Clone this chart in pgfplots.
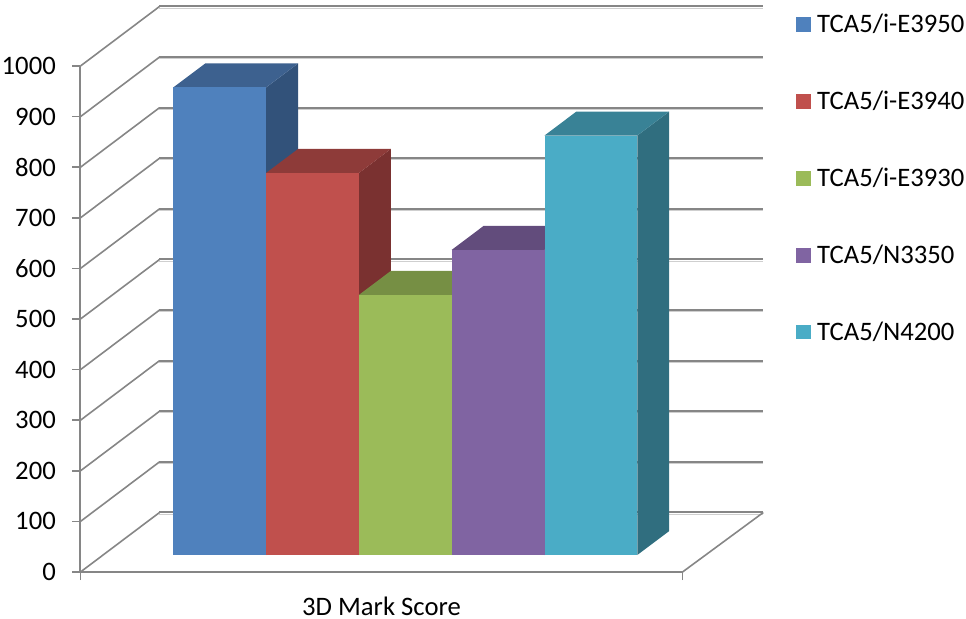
\documentclass[border=0pt]{standalone}
\usepackage{pgfplots}
\pgfplotsset{compat=1.18}
\usepackage{fontspec}
\setmainfont{Carlito}
\definecolor{gridc}{HTML}{868686}
\definecolor{b1}{HTML}{4F81BD}\definecolor{b1s}{HTML}{32527A}\definecolor{b1t}{HTML}{3D618F}
\definecolor{b2}{HTML}{C0504D}\definecolor{b2s}{HTML}{7A3130}\definecolor{b2t}{HTML}{8E3B39}
\definecolor{b3}{HTML}{9BBB59}\definecolor{b3s}{HTML}{637838}\definecolor{b3t}{HTML}{768F44}
\definecolor{b4}{HTML}{8064A2}\definecolor{b4s}{HTML}{51406A}\definecolor{b4t}{HTML}{624C7C}
\definecolor{b5}{HTML}{4AACC6}\definecolor{b5s}{HTML}{306E7F}\definecolor{b5t}{HTML}{398296}
\pgfplotsset{swatch/.style={legend image code/.code={\fill[##1] (0pt,-5.6pt) rectangle (11.25pt,5.6pt);}},
  barf/.style={ybar,bar width=69.6pt,bar shift=0pt,draw=none,swatch}}
\begin{document}
\begin{tikzpicture}
\path[use as bounding box] (-60.375pt,-34.5pt) rectangle ++(724.5pt,463.5pt);
\begin{axis}[
  at={(0,0)},anchor=south west,
  scale only axis,width=451.5pt,height=379.5pt,
  xmin=0,xmax=602,ymin=0,ymax=1000,clip=false,
  axis x line=bottom,axis y line=left,
  axis line style={gridc,line width=1.5pt,-},
  every tick/.style={gridc,line width=1.1pt},
  tick align=outside,major tick length=6pt,
  xtick={0,602},xticklabels={,},
  ytick={0,100,...,1000},
  tick label style={font=\fontsize{20}{24}\selectfont,black},
  /pgf/number format/assume math mode=true,
  /pgf/number format/1000 sep={},
  yticklabel style={xshift=-9pt},
  scaled y ticks=false,
  xlabel={3D Mark Score},
  xlabel style={at={(axis description cs:0.5,0)},anchor=center,yshift=-26pt,inner sep=0pt,outer sep=0pt,font=\fontsize{20}{20}\selectfont},
]
\pgfplotsinvokeforeach{0,100,...,1000}{
  \addplot[gridc,line width=1.2pt] coordinates {(0,#1)(79,#1+117.6)};
  \addplot[gridc!40,line width=.7pt,yshift=-1.2pt] coordinates {(79,#1+117.6)(682.8,#1+117.6)};
  \addplot[gridc,line width=1.5pt] coordinates {(79,#1+117.6)(682.8,#1+117.6)};
}
\addplot[gridc,line width=1.2pt] coordinates {(602,0)(682.8,117.6)};
\end{axis}
\begin{axis}[
  at={(69.6pt,12.75pt)},anchor=south west,
  scale only axis,width=348pt,height=379.5pt,
  xmin=-0.5,xmax=4.5,ymin=0,ymax=1000,clip=false,hide axis,
  legend style={draw=none,fill=none,at={(1.341,1.069)},anchor=north west,
    font=\fontsize{20}{24}\selectfont,row sep=42.3pt,inner sep=0pt,outer sep=0pt,
    /tikz/every even column/.append style={column sep=0pt},
    nodes={inner sep=0pt,outer sep=0pt}},
  legend cell align=left,
]
% blue
\addplot[fill=b1s,draw=none,forget plot] coordinates {(0.5,924)(0.844,971.4)(0.844,47.4)(0.5,0)};
\addplot[fill=b1t,draw=none,forget plot] coordinates {(-0.5,924)(0.5,924)(0.844,971.4)(-0.156,971.4)};
\addplot[barf,fill=b1] coordinates {(0,924)};
\addlegendentry{\hspace{5pt}TCA5/i-E3950}
% red
\addplot[fill=b2s,draw=none,forget plot] coordinates {(1.5,755)(1.844,802.4)(1.844,47.4)(1.5,0)};
\addplot[fill=b2t,draw=none,forget plot] coordinates {(0.5,755)(1.5,755)(1.844,802.4)(0.844,802.4)};
\addplot[barf,fill=b2] coordinates {(1,755)};
\addlegendentry{\hspace{5pt}TCA5/i-E3940}
% green
\addplot[fill=b3s,draw=none,forget plot] coordinates {(2.5,514)(2.844,561.4)(2.844,47.4)(2.5,0)};
\addplot[fill=b3t,draw=none,forget plot] coordinates {(1.5,514)(2.5,514)(2.844,561.4)(1.844,561.4)};
\addplot[barf,fill=b3] coordinates {(2,514)};
\addlegendentry{\hspace{5pt}TCA5/i-E3930}
% purple
\addplot[fill=b4s,draw=none,forget plot] coordinates {(3.5,603)(3.844,650.4)(3.844,47.4)(3.5,0)};
\addplot[fill=b4t,draw=none,forget plot] coordinates {(2.5,603)(3.5,603)(3.844,650.4)(2.844,650.4)};
\addplot[barf,fill=b4] coordinates {(3,603)};
\addlegendentry{\hspace{5pt}TCA5/N3350}
% teal
\addplot[fill=b5s,draw=none,forget plot] coordinates {(4.5,829)(4.844,876.4)(4.844,47.4)(4.5,0)};
\addplot[fill=b5t,draw=none,forget plot] coordinates {(3.5,829)(4.5,829)(4.844,876.4)(3.844,876.4)};
\addplot[barf,fill=b5] coordinates {(4,829)};
\addlegendentry{\hspace{5pt}TCA5/N4200}
\end{axis}
\end{tikzpicture}
\end{document}
